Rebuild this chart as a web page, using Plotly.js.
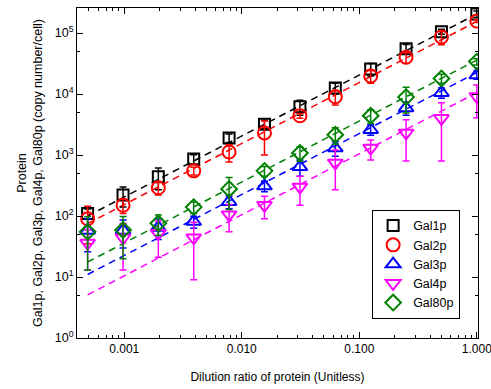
<!DOCTYPE html>
<html>
<head>
<meta charset="utf-8">
<script src="https://cdn.plot.ly/plotly-3.0.1.min.js"></script>
<style>html,body{margin:0;padding:0;background:#fff;}#chart{width:491px;height:389px;}</style>
</head>
<body>
<div id="chart"></div>
<script>
// Dilution ratios (x)
const dilution = [0.000488, 0.000977, 0.00195, 0.0039, 0.0078, 0.0156, 0.03125, 0.0625, 0.125, 0.25, 0.5, 1.0];

// Measured protein copy numbers
const gal1p  = [110, 220, 440, 860, 1900, 3200, 6200, 12500, 25700, 55000, 105000, 205000];
const gal1pErr  = [20, 80, 170, 150, 300, 500, 1700, 2500, 6000, 10000, 10000, 25000];
const gal2p  = [90, 150, 290, 550, 1120, 2300, 4400, 9000, 19700, 40000, 86000, 157000];
const gal2pErr  = [55, 40, 70, 80, 350, 1300, 400, 2400, 4700, 8000, 22000, 8000];
const gal3p  = [58, 58, 65, 81, 172, 310, 640, 1300, 2600, 5900, 10500, 20500];
const gal3pErr  = [32, 28, 24, 18, 40, 60, 190, 350, 500, 1400, 2000, 3000];
const gal4p  = [36, 44, 52, 44, 105, 150, 300, 740, 1300, 2300, 4000, 9100];
const gal4pErr  = [23, 31, 31, 35, 50, 60, 150, 470, 470, 1500, 3200, 5000];
const gal80p = [55, 59, 76, 140, 278, 550, 1080, 2150, 4400, 8900, 18000, 34000];
const gal80pErr = [42, 39, 28, 30, 150, 100, 290, 650, 1100, 4000, 3000, 4000];

// Dashed fit lines (end points)
const fitX = [0.000488, 1.0];
const fitGal1p  = [100, 205000];
const fitGal2p  = [75, 155000];
const fitGal3p  = [11, 22500];
const fitGal4p  = [5.1, 10500];
const fitGal80p = [17.6, 36000];

// Tick labels
const xTickVals = [0.001, 0.01, 0.1, 1];
const xTickText = ['0.001', '0.010', '0.100', '1.000'];
const yTickVals = [1, 10, 100, 1000, 10000, 100000];
const yTickText = ['10<sup>0</sup>', '10<sup>1</sup>', '10<sup>2</sup>', '10<sup>3</sup>', '10<sup>4</sup>', '10<sup>5</sup>'];
const yMinorVals = [5, 50, 500, 5000, 50000];

const names = ['Gal1p', 'Gal2p', 'Gal3p', 'Gal4p', 'Gal80p'];
const colors = ['#000000', '#ff0000', '#0000ff', '#ff00ff', '#008000'];
const symbols = ['square-open', 'circle-open', 'triangle-up-open', 'triangle-down-open', 'diamond-open'];
const sizes = [11, 13, 13, 13, 12];
const values = [gal1p, gal2p, gal3p, gal4p, gal80p];
const errors = [gal1pErr, gal2pErr, gal3pErr, gal4pErr, gal80pErr];
const fits = [fitGal1p, fitGal2p, fitGal3p, fitGal4p, fitGal80p];

const traces = [];
for (let i = 0; i < names.length; i++) {
  traces.push({
    x: fitX, y: fits[i], type: 'scatter', mode: 'lines', showlegend: false, hoverinfo: 'skip',
    line: {color: colors[i], width: 1.5, dash: '7px,5px'}
  });
}
for (let i = 0; i < names.length; i++) {
  traces.push({
    x: dilution, y: values[i], type: 'scatter', mode: 'markers', name: names[i],
    marker: {symbol: symbols[i], size: sizes[i], color: colors[i], line: {width: 2, color: colors[i]}},
    error_y: {type: 'data', array: errors[i], visible: true, color: colors[i], thickness: 1.5, width: 3.5}
  });
}

const font = {family: 'Liberation Sans, Arial, sans-serif', size: 12, color: '#000'};

const layout = {
  width: 491, height: 389,
  margin: {l: 77, r: 13, t: 8, b: 51},
  paper_bgcolor: '#fff', plot_bgcolor: '#fff',
  font: font,
  showlegend: true,
  legend: {
    x: 0.736, y: 0.388, xanchor: 'left', yanchor: 'top',
    bordercolor: '#000', borderwidth: 1, bgcolor: '#fff',
    font: {family: 'Liberation Sans, Arial, sans-serif', size: 12.5, color: '#000'},
    tracegroupgap: 0
  },
  xaxis: {
    type: 'log', range: [-3.402, 0.01],
    showgrid: false, zeroline: false,
    showline: true, linecolor: '#000', linewidth: 1, mirror: 'allticks',
    ticks: 'inside', ticklen: 6, tickwidth: 1, tickcolor: '#000',
    tickmode: 'array', tickvals: xTickVals, ticktext: xTickText,
    ticklabeloverflow: 'allow',
    minor: {ticks: 'inside', ticklen: 3, tickwidth: 1, tickcolor: '#000', dtick: 'D1', showgrid: false},
    tickfont: {size: 12},
    title: {text: 'Dilution ratio of protein (Unitless)', font: {size: 12}, standoff: 17}
  },
  yaxis: {
    type: 'log', range: [0, 5.41],
    showgrid: false, zeroline: false,
    showline: true, linecolor: '#000', linewidth: 1, mirror: 'allticks',
    ticks: 'inside', ticklen: 6, tickwidth: 1, tickcolor: '#000',
    tickmode: 'array', tickvals: yTickVals, ticktext: yTickText,
    minor: {ticks: 'inside', ticklen: 3, tickwidth: 1, tickcolor: '#000', tickmode: 'array', tickvals: yMinorVals, showgrid: false},
    tickfont: {size: 12.5},
    title: {text: 'Protein<br>Gal1p, Gal2p, Gal3p, Gal4p, Gal80p (copy number/cell)', font: {size: 12.5}, standoff: 9}
  }
};

Plotly.newPlot('chart', traces, layout, {displayModeBar: false, staticPlot: true});
</script>
</body>
</html>
